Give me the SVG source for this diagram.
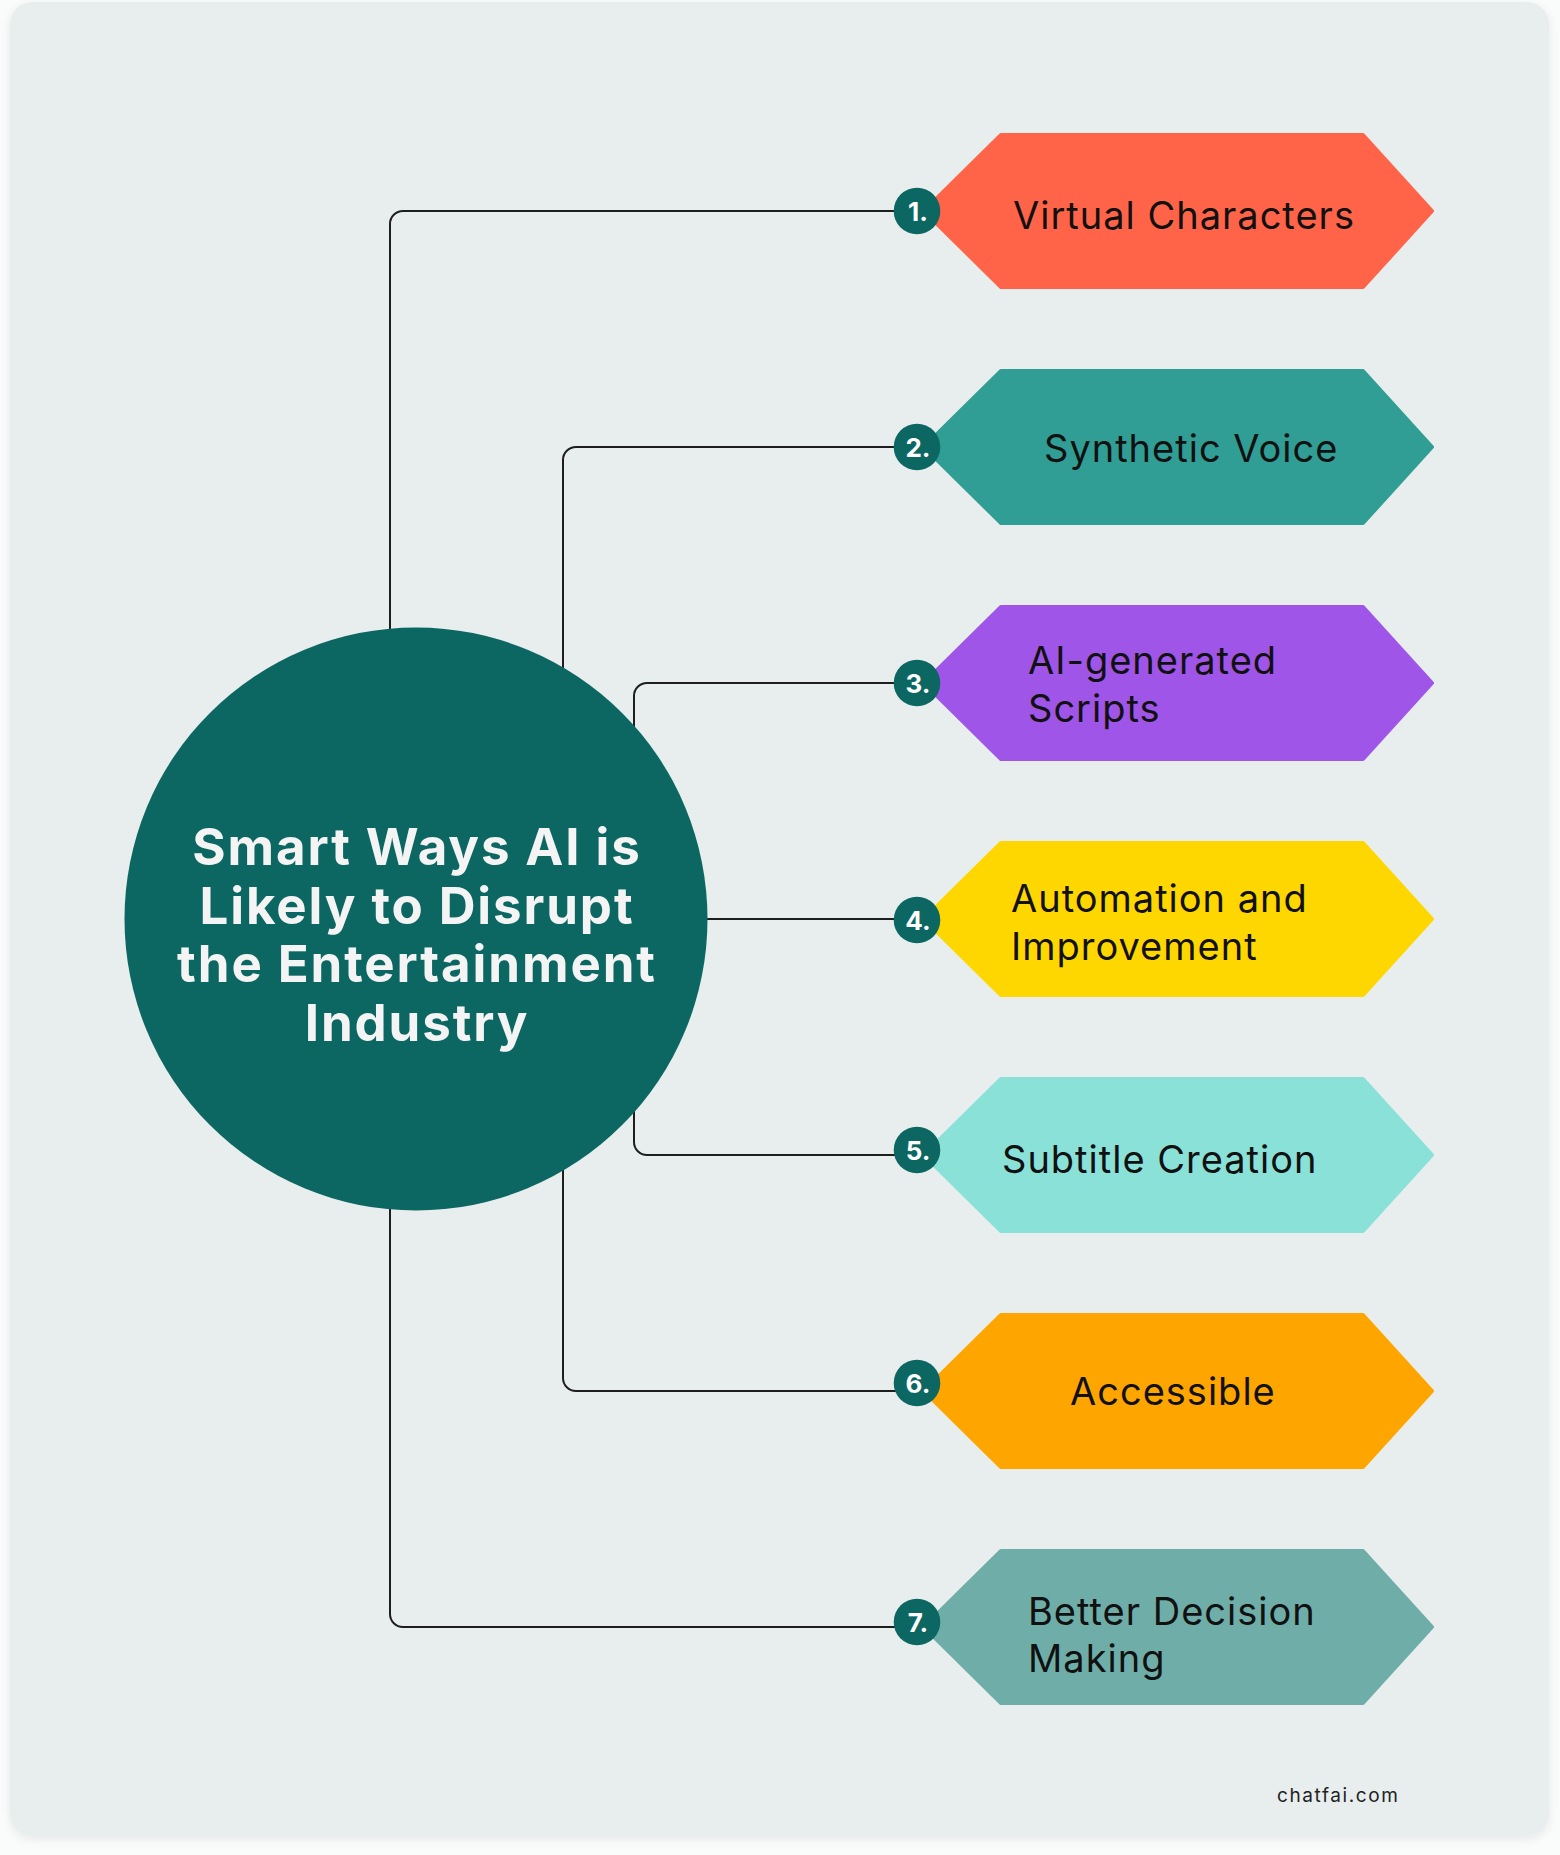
<svg xmlns="http://www.w3.org/2000/svg" width="1560" height="1855" viewBox="0 0 1560 1855">
  <defs>
    <filter id="sh" x="-5%" y="-5%" width="110%" height="110%">
      <feDropShadow dx="0" dy="3" stdDeviation="5" flood-color="#000" flood-opacity="0.08"/>
    </filter>
    <style>
      .hex { stroke-width: 4; stroke-linejoin: round; }
      .lbl { font-family: Inter, "Liberation Sans", sans-serif; font-size: 38px; letter-spacing: 1px; fill: #111; }
      .badge { fill: #0C6763; }
      .num { font-family: Inter, "Liberation Sans", sans-serif; font-size: 26px; font-weight: 700; fill: #FFFFFF; text-anchor: middle; }
      .title { font-family: Inter, "Liberation Sans", sans-serif; font-size: 51px; font-weight: 700; letter-spacing: 1.9px; fill: #F4F4F4; text-anchor: middle; }
      .conn { fill: none; stroke: #1E1E1E; stroke-width: 2; }
    </style>
  </defs>
  <rect x="0" y="0" width="1560" height="1855" fill="#FAFBFB"/>
  <rect x="10" y="2" width="1539" height="1834" rx="22" fill="#E8EEED" filter="url(#sh)"/>

  <g id="connectors">
    <path class="conn" d="M390 919 V224 A13 13 0 0 1 403 211 H917"/>
    <path class="conn" d="M563 919 V460 A13 13 0 0 1 576 447 H917"/>
    <path class="conn" d="M634 919 V696 A13 13 0 0 1 647 683 H917"/>
    <path class="conn" d="M416 919 H917"/>
    <path class="conn" d="M634 919 V1142 A13 13 0 0 0 647 1155 H917"/>
    <path class="conn" d="M563 919 V1378 A13 13 0 0 0 576 1391 H917"/>
    <path class="conn" d="M390 919 V1614 A13 13 0 0 0 403 1627 H917"/>
  </g>

  <g id="center">
    <circle cx="416" cy="919" r="291.5" fill="#0C6763"/>
    <text class="title" x="417" y="865">Smart Ways AI is</text>
    <text class="title" x="417" y="923.5">Likely to Disrupt</text>
    <text class="title" x="417" y="982">the Entertainment</text>
    <text class="title" x="417" y="1041">Industry</text>
  </g>

  <g id="item1">
    <polygon class="hex" fill="#FF6449" stroke="#FF6449" points="924,211 1001,135 1363,135 1432,211 1363,287 1001,287"/>
    <text class="lbl" x="1013" y="228.5">Virtual Characters</text>
    <circle class="badge" cx="917" cy="211" r="23.3"/>
    <text class="num" x="918" y="220.5">1.</text>
  </g>

  <g id="item2">
    <polygon class="hex" fill="#309E94" stroke="#309E94" points="924,447 1001,371 1363,371 1432,447 1363,523 1001,523"/>
    <text class="lbl" x="1044" y="462">Synthetic Voice</text>
    <circle class="badge" cx="917" cy="447" r="23.3"/>
    <text class="num" x="918" y="456.5">2.</text>
  </g>

  <g id="item3">
    <polygon class="hex" fill="#9F55E8" stroke="#9F55E8" points="924,683 1001,607 1363,607 1432,683 1363,759 1001,759"/>
    <text class="lbl" x="1028" y="674.3">AI-generated</text>
    <text class="lbl" x="1028" y="721.7">Scripts</text>
    <circle class="badge" cx="917" cy="683" r="23.3"/>
    <text class="num" x="918" y="692.5">3.</text>
  </g>

  <g id="item4">
    <polygon class="hex" fill="#FFD700" stroke="#FFD700" points="924,919 1001,843 1363,843 1432,919 1363,995 1001,995"/>
    <text class="lbl" x="1011" y="912.4">Automation and</text>
    <text class="lbl" x="1011" y="959.7">Improvement</text>
    <circle class="badge" cx="917" cy="920" r="23.3"/>
    <text class="num" x="918" y="929.5">4.</text>
  </g>

  <g id="item5">
    <polygon class="hex" fill="#89E1D8" stroke="#89E1D8" points="924,1155 1001,1079 1363,1079 1432,1155 1363,1231 1001,1231"/>
    <text class="lbl" x="1002" y="1172.5">Subtitle Creation</text>
    <circle class="badge" cx="917" cy="1150" r="23.3"/>
    <text class="num" x="918" y="1159.5">5.</text>
  </g>

  <g id="item6">
    <polygon class="hex" fill="#FFA500" stroke="#FFA500" points="924,1391 1001,1315 1363,1315 1432,1391 1363,1467 1001,1467"/>
    <text class="lbl" x="1070" y="1404.5">Accessible</text>
    <circle class="badge" cx="917" cy="1383" r="23.3"/>
    <text class="num" x="918" y="1392.5">6.</text>
  </g>

  <g id="item7">
    <polygon class="hex" fill="#6FAEA8" stroke="#6FAEA8" points="924,1627 1001,1551 1363,1551 1432,1627 1363,1703 1001,1703"/>
    <text class="lbl" x="1028" y="1624.5">Better Decision</text>
    <text class="lbl" x="1028" y="1671.8">Making</text>
    <circle class="badge" cx="917" cy="1622" r="23.3"/>
    <text class="num" x="918" y="1631.5">7.</text>
  </g>

  <text x="1277" y="1801.5" font-family="Inter, 'Liberation Sans', sans-serif" font-size="19" letter-spacing="1.6" fill="#222">chatfai.com</text>
</svg>
